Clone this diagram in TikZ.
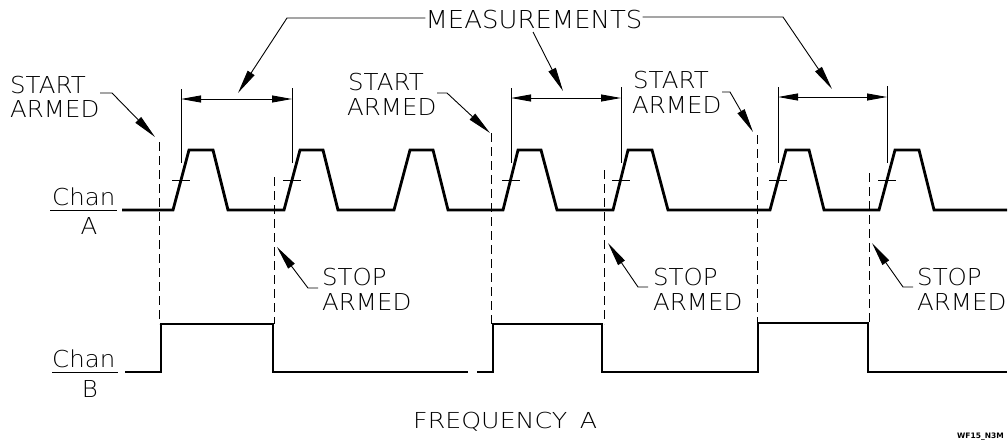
\documentclass[tikz,border=0pt]{standalone}
\usepackage{fontspec}
\usepackage{graphicx}
\usetikzlibrary{arrows.meta}
\newfontfamily\plotfont{DejaVu Sans ExtraLight}
\newfontfamily\tagfont{DejaVu Sans Bold}
\newcommand\wx[1]{\scalebox{1.05}[1]{#1}}
\begin{document}
\begin{tikzpicture}[x=1pt,y=-1pt,
  wave/.style={line width=2.8pt},
  thinline/.style={line width=0.9pt},
  dashline/.style={line width=0.9pt, dash pattern=on 9pt off 5pt},
  lab/.style={inner sep=0pt, anchor=base west, font=\plotfont\fontsize{23.3}{24}\selectfont},
  lead/.style={line width=0.9pt, -{Triangle[length=24pt,width=8pt]}},
  dimarr/.style={line width=0.9pt, {Triangle[length=20pt,width=7pt]}-{Triangle[length=20pt,width=7pt]}}]
\useasboundingbox (0,0) rectangle (1008,440);

% ---------- Chan A waveform ----------
\draw[wave] (122,210) -- (173,210) -- (189,150) -- (213,150) -- (228,210)
  -- (284,210) -- (300,150) -- (323,150) -- (338,210)
  -- (394,210) -- (410,150) -- (433,150) -- (448,210)
  -- (503,210) -- (518,150) -- (541,150) -- (557,210)
  -- (613,210) -- (628,150) -- (652,150) -- (668,210)
  -- (770,210) -- (786,150) -- (809,150) -- (824,210)
  -- (879,210) -- (895,150) -- (919,150) -- (934,210) -- (1007,210);

% ---------- Chan B waveform ----------
\draw[wave] (125,372) -- (161,372) -- (161,324) -- (273,324) -- (273,372) -- (468,372);
\draw[wave] (477,372) -- (493,372) -- (493,324) -- (602,324) -- (602,372)
  -- (758,372) -- (758,323) -- (868,323) -- (868,372) -- (1007,372);

% ---------- channel labels ----------
\node[lab] (chanA) at (52,205) {\wx{Chan}};
\draw[thinline] (50,210) -- (117,210);
\node[lab, anchor=base] (labA) at (89,234) {\wx{A}};
\node[lab] (chanB) at (52,367) {\wx{Chan}};
\draw[thinline] (52,372) -- (118,372);
\node[lab, anchor=base] (labB) at (90,397) {\wx{B}};

% ---------- dashed arming lines ----------
\foreach \x/\t/\b in {159/142/324, 274/177/324, 491/133/324, 604/170/324, 757/135/323, 869/173/323}
  \draw[dashline] (\x,\t) -- (\x,\b);

% ---------- threshold ticks ----------
\foreach \x in {181,292,511,621,778,887}
  \draw[thinline] (\x-9,180) -- (\x+9,180);

% ---------- measurement dimensions ----------
\foreach \a/\b/\y in {181/292/99, 511/621/98, 778/887/97}{
  \draw[thinline] (\a,\y-10) -- (\a,163);
  \draw[thinline] (\b,\y-11) -- (\b,163);
  \draw[dimarr] (\a,\y) -- (\b,\y);
}

% ---------- MEASUREMENTS ----------
\node[lab, anchor=base, font=\plotfont\fontsize{24.7}{25}\selectfont] (meas) at (534,28) {\wx{MEASUREMENTS}};
\coordinate (mlh) at (287,18);
\coordinate (mlt) at (238,93);
\coordinate (mms) at (533,32);
\coordinate (mmt) at (563,91);
\coordinate (mrh) at (783,17);
\coordinate (mrt) at (832,89);
\draw[lead] (meas.west |- mlh) -- (mlh) -- (mlt);
\draw[lead] (mms) -- (mmt);
\draw[lead] (meas.east |- mrh) -- (mrh) -- (mrt);

% ---------- START ARMED labels ----------
\node[lab] (sa1) at (10,93) {\wx{START}};
\node[lab] (sa1b) at (10,117) {\wx{ARMED}};
\coordinate (sa1h) at (100,93);
\coordinate (sa1k) at (112,93);
\coordinate (sa1t) at (155,137);
\draw[lead] (sa1h) -- (sa1k) -- (sa1t);

\node[lab] (sa2) at (348,90) {\wx{START}};
\node[lab] (sa2b) at (347,115) {\wx{ARMED}};
\coordinate (sa2h) at (437,93);
\coordinate (sa2k) at (447,93);
\coordinate (sa2t) at (490,133);
\draw[lead] (sa2h) -- (sa2k) -- (sa2t);

\node[lab] (sa3) at (633,88) {\wx{START}};
\node[lab] (sa3b) at (632,113) {\wx{ARMED}};
\coordinate (sa3h) at (722,92);
\coordinate (sa3k) at (730,92);
\coordinate (sa3t) at (753,132);
\draw[lead] (sa3h) -- (sa3k) -- (sa3t);

% ---------- STOP ARMED labels ----------
\node[lab] (so1) at (322,285) {\wx{STOP}};
\node[lab] (so1b) at (322,310) {\wx{ARMED}};
\coordinate (so1h) at (318,288);
\coordinate (so1k) at (308,288);
\coordinate (so1t) at (277,247);
\draw[lead] (so1h) -- (so1k) -- (so1t);

\node[lab] (so2) at (653,285) {\wx{STOP}};
\node[lab] (so2b) at (653,310) {\wx{ARMED}};
\coordinate (so2h) at (648,287);
\coordinate (so2k) at (638,287);
\coordinate (so2t) at (608,243);
\draw[lead] (so2h) -- (so2k) -- (so2t);

\node[lab] (so3) at (917,285) {\wx{STOP}};
\node[lab] (so3b) at (917,310) {\wx{ARMED}};
\coordinate (so3h) at (913,287);
\coordinate (so3k) at (903,287);
\coordinate (so3t) at (872,243);
\draw[lead] (so3h) -- (so3k) -- (so3t);

% ---------- caption ----------
\node[lab, font=\plotfont\fontsize{22}{22}\selectfont] (cap) at (413,428) {\scalebox{1.15}[1]{FREQUENCY\hspace{0.5em}A}};
\node[inner sep=0pt, anchor=base west, font=\tagfont\fontsize{7.5}{8}\selectfont] (tag) at (957,438) {WF15\_N3M};
\end{tikzpicture}
\end{document}
